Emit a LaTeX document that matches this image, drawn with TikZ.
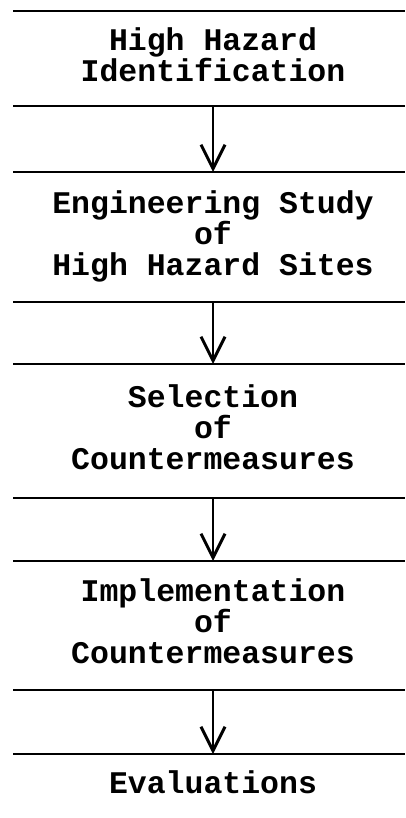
\documentclass[tikz,border=0pt]{standalone}
\usepackage{fontspec}
\newfontfamily\courfont{Liberation Mono}
\usetikzlibrary{arrows.meta}
\tikzset{
  rule/.style={line width=2.6pt},
  flow/.style={line width=2pt,-{Straight Barb[length=24pt,width=24pt,line width=3pt]}},
  stage/.style={align=center,inner sep=0pt,anchor=base,
    font=\courfont\bfseries\fontsize{31.5}{31}\selectfont}
}
\begin{document}
\begin{tikzpicture}[x=1pt,y=-1pt]
\useasboundingbox (0,0) rectangle (405,818);
% rules
\foreach \n/\y in {r1/11,r2/106,r3/172,r4/302,r5/364,r6/498,r7/561,r8/690,r9/754}{
  \coordinate (\n L) at (13,\y);
  \coordinate (\n R) at (405,\y);
  \coordinate (\n) at (213,\y);
  \draw[rule] (\n L) -- (\n R);
}
% texts (anchored at the baseline of their last line)
\node[stage] (s1) at (213,82) {High Hazard\\Identification};
\node[stage] (s2) at (213,275) {Engineering Study\\of\\High Hazard Sites};
\node[stage] (s3) at (213,469) {Selection\\of\\Countermeasures};
\node[stage] (s4) at (213,663) {Implementation\\of\\Countermeasures};
\node[stage] (s5) at (213,793) {Evaluations};
% arrows
\draw[flow] (r2) -- (r3);
\draw[flow] (r4) -- (r5);
\draw[flow] (r6) -- (r7);
\draw[flow] (r8) -- (r9);
\end{tikzpicture}
\end{document}
